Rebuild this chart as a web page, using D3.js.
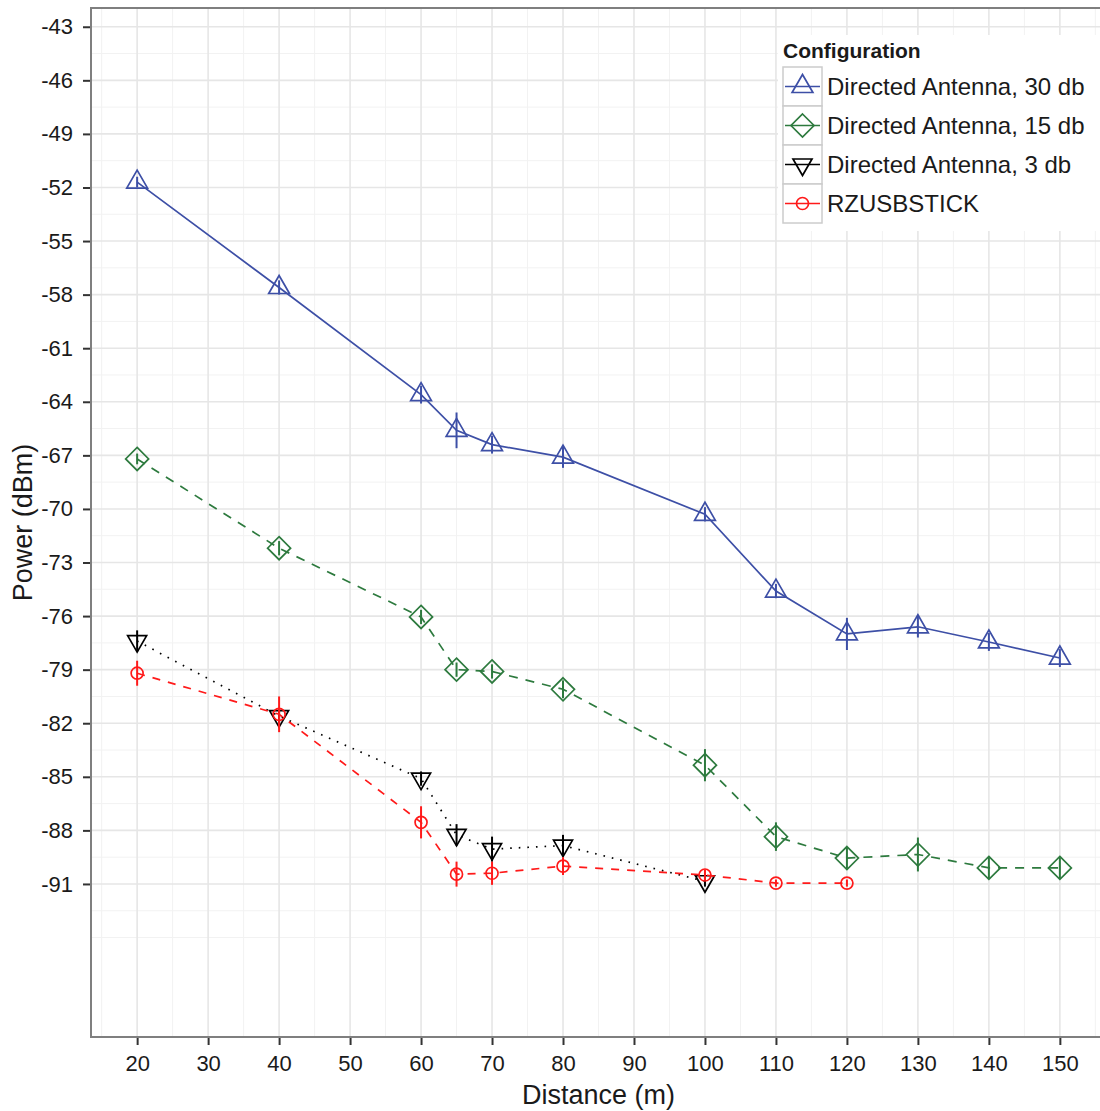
<!DOCTYPE html>
<html>
<head>
<meta charset="utf-8">
<title>Power vs distance</title>
<style>
  body{margin:0;background:#fff;}
  svg{display:block;font-family:"Liberation Sans",Arial,sans-serif;}
</style>
</head>
<body>
<svg id="chart" width="1100" height="1111"></svg>
<script src="https://cdn.jsdelivr.net/npm/d3@7/dist/d3.min.js"></script>
<script>
// data
var distances = [20, 40, 60, 65, 70, 80, 100, 110, 120, 130, 140, 150];
var ant30 = [-51.7, -57.6, -63.6, -65.6, -66.4, -67.1, -70.3, -74.6, -77.0, -76.6, -77.45, -78.35];
var ant30Err = [0.3, 0.4, 0.5, 1.0, 0.5, 0.6, 0.4, 0.4, 0.9, 0.6, 0.5, 0.5];
var ant15 = [-67.2, -72.2, -76.05, -79.0, -79.1, -80.1, -84.35, -88.35, -89.55, -89.35, -90.1, -90.1];
var ant15Err = [0.3, 0.4, 0.4, 0.4, 0.4, 0.5, 0.9, 0.8, 0.6, 0.95, 0.6, 0.6];
var ant3Dist = [20, 40, 60, 65, 70, 80, 100];
var ant3 = [-77.4, -81.6, -85.1, -88.25, -89.05, -88.85, -90.85];
var ant3Err = [0.6, 0.4, 0.4, 0.6, 0.7, 0.6, 0.3];
var stickDist = [20, 40, 60, 65, 70, 80, 100, 110, 120];
var stick = [-79.2, -81.5, -87.55, -90.45, -90.4, -90.0, -90.5, -90.95, -90.95];
var stickErr = [0.7, 1.0, 0.9, 0.7, 0.65, 0.5, 0.3, 0.2, 0.2];

var seriesNames = ['Directed Antenna, 30 db', 'Directed Antenna, 15 db', 'Directed Antenna, 3 db', 'RZUSBSTICK'];
var xTicks = [20, 30, 40, 50, 60, 70, 80, 90, 100, 110, 120, 130, 140, 150];
var yTicks = [-43, -46, -49, -52, -55, -58, -61, -64, -67, -70, -73, -76, -79, -82, -85, -88, -91];

function rows(xs, ys, es){
  return xs.map(function(d, i){ return {x: d, y: ys[i], e: es[i]}; });
}

// pch style shapes
function shapePath(kind){
  if(kind == 'up') return 'M0,-12L10.4,6L-10.4,6Z';
  if(kind == 'down') return 'M0,11L9.5,-5.5L-9.5,-5.5Z';
  if(kind == 'diamond') return 'M0,-11.5L11.5,0L0,11.5L-11.5,0Z';
  return 'M-6,0A6,6 0 1,0 6,0A6,6 0 1,0 -6,0Z';
}

var series = [
  {name: seriesNames[0], color: '#3d4fa6', dash: null, shape: 'up', data: rows(distances, ant30, ant30Err)},
  {name: seriesNames[1], color: '#2d7a3e', dash: '9,8', shape: 'diamond', data: rows(distances, ant15, ant15Err)},
  {name: seriesNames[2], color: '#000000', dash: '1.6,7', shape: 'down', data: rows(ant3Dist, ant3, ant3Err)},
  {name: seriesNames[3], color: '#ff1a1a', dash: '8,8', shape: 'circle', data: rows(stickDist, stick, stickErr)}
];

var pL = 91, pR = 1106, pT = 8, pB = 1037;
var svg = d3.select('#chart');

var x = d3.scaleLinear().domain([13.5, 156.5]).range([pL, pR]);
var y = d3.scaleLinear().domain([-99.57, -41.95]).range([pB, pT]);

var xMinor = d3.range(15, 160, 10);
var yMinor = d3.range(-44.5, -95, -3).concat([-94]);

var grid = svg.append('g');
grid.selectAll('.vmin').data(xMinor).enter().append('line')
  .attr('x1', function(d){ return x(d); }).attr('x2', function(d){ return x(d); })
  .attr('y1', pT).attr('y2', pB)
  .style('stroke', '#f2f2f2').style('stroke-width', 1);
grid.selectAll('.hmin').data(yMinor).enter().append('line')
  .attr('y1', function(d){ return y(d); }).attr('y2', function(d){ return y(d); })
  .attr('x1', pL).attr('x2', pR)
  .style('stroke', '#f2f2f2').style('stroke-width', 1);
grid.selectAll('.vmaj').data(xTicks).enter().append('line')
  .attr('x1', function(d){ return x(d); }).attr('x2', function(d){ return x(d); })
  .attr('y1', pT).attr('y2', pB)
  .style('stroke', '#e6e6e6').style('stroke-width', 1.6);
grid.selectAll('.hmaj').data(yTicks).enter().append('line')
  .attr('y1', function(d){ return y(d); }).attr('y2', function(d){ return y(d); })
  .attr('x1', pL).attr('x2', pR)
  .style('stroke', '#e6e6e6').style('stroke-width', 1.6);

// axes (plain hyphen for negatives, like the original)
var fmt = function(d){ return String(d); };
var xAxis = d3.axisBottom(x).tickValues(xTicks).tickFormat(fmt).tickSize(8).tickPadding(10);
var yAxis = d3.axisLeft(y).tickValues(yTicks).tickFormat(fmt).tickSize(8).tickPadding(10);
var gx = svg.append('g').attr('transform', 'translate(0,' + pB + ')').call(xAxis);
var gy = svg.append('g').attr('transform', 'translate(' + pL + ',0)').call(yAxis);
[gx, gy].forEach(function(g){
  g.select('.domain').remove();
  g.selectAll('line').style('stroke', '#333').style('stroke-width', 2);
  g.selectAll('text').style('font-size', '22px').style('fill', '#1a1a1a')
    .style('font-family', '"Liberation Sans",Arial,sans-serif');
});

// panel border
svg.append('rect').attr('x', pL).attr('y', pT)
  .attr('width', pR - pL).attr('height', pB - pT)
  .style('fill', 'none').style('stroke', '#7f7f7f').style('stroke-width', 2);

// lines, error bars, points
var line = d3.line().x(function(d){ return x(d.x); }).y(function(d){ return y(d.y); });
series.forEach(function(s){
  var g = svg.append('g');
  g.append('path').datum(s.data).attr('d', line)
    .style('fill', 'none').style('stroke', s.color).style('stroke-width', 1.7)
    .style('stroke-dasharray', s.dash);
  g.selectAll('.err').data(s.data).enter().append('line')
    .attr('x1', function(d){ return x(d.x); }).attr('x2', function(d){ return x(d.x); })
    .attr('y1', function(d){ return y(d.y - d.e); }).attr('y2', function(d){ return y(d.y + d.e); })
    .style('stroke', s.color).style('stroke-width', 2);
  g.selectAll('.pt').data(s.data).enter().append('path')
    .attr('d', shapePath(s.shape))
    .attr('transform', function(d){ return 'translate(' + x(d.x) + ',' + y(d.y) + ')'; })
    .style('fill', 'none').style('stroke', s.color).style('stroke-width', 1.7);
});

// axis titles
svg.append('text').attr('x', (pL + pR) / 2).attr('y', 1104)
  .attr('text-anchor', 'middle').style('font-size', '27px').style('fill', '#1a1a1a')
  .text('Distance (m)');
svg.append('text').attr('transform', 'translate(32,' + (pT + pB) / 2 + ') rotate(-90)')
  .attr('text-anchor', 'middle').style('font-size', '27px').style('fill', '#1a1a1a')
  .text('Power (dBm)');

// legend
var lg = svg.append('g').attr('transform', 'translate(778,35)');
lg.append('rect').attr('width', 330).attr('height', 196).style('fill', '#fff');
lg.append('text').attr('x', 5).attr('y', 23).style('font-size', '21px')
  .style('font-weight', 'bold').style('fill', '#1a1a1a').text('Configuration');
var keys = lg.selectAll('.key').data(series).enter().append('g')
  .attr('transform', function(d, i){ return 'translate(5,' + (32 + i * 39) + ')'; });
keys.append('rect').attr('width', 39).attr('height', 39)
  .style('fill', '#fff').style('stroke', '#cccccc').style('stroke-width', 1.5);
keys.append('line').attr('x1', 2).attr('x2', 37).attr('y1', 19.5).attr('y2', 19.5)
  .style('stroke', function(d){ return d.color; }).style('stroke-width', 1.7);
keys.append('path').attr('d', function(d){ return shapePath(d.shape); })
  .attr('transform', 'translate(19.5,19.5)')
  .style('fill', 'none').style('stroke', function(d){ return d.color; }).style('stroke-width', 1.7);
keys.append('text').attr('x', 44).attr('y', 19.5).attr('dy', '0.36em')
  .style('font-size', '24px').style('fill', '#1a1a1a')
  .text(function(d){ return d.name; });
</script>
</body>
</html>
